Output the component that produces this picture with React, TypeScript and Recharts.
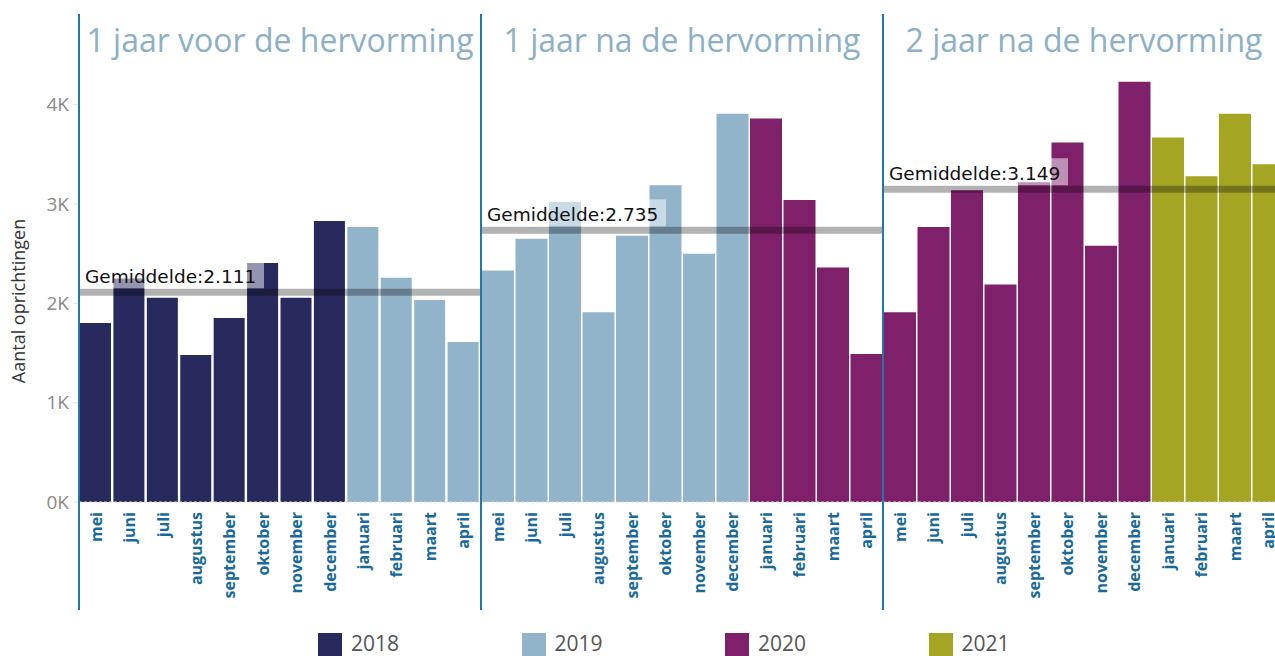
import React from "react";
import { BarChart, Bar, Cell, XAxis, YAxis, ReferenceLine } from "recharts";

const calendarMonths = [
  "januari", "februari", "maart", "april", "mei", "juni",
  "juli", "augustus", "september", "oktober", "november", "december",
];

// 2018 starts in mei, 2021 stops after april
const values2018 = [1803, 2250, 2057, 1480, 1853, 2407, 2057, 2830];
const values2019 = [2769, 2259, 2034, 1611, 2330, 2650, 3020, 1910, 2680, 3190, 2500, 3910];
const values2020 = [3860, 3040, 2360, 1490, 1910, 2770, 3140, 2190, 3220, 3620, 2580, 4230];
const values2021 = [3670, 3280, 3910, 3400];

const panelTitles = ["1 jaar voor de hervorming", "1 jaar na de hervorming", "2 jaar na de hervorming"];
const panelAverages = [2111, 2735, 3149];
const yTicks = [0, 1000, 2000, 3000, 4000];
const years = [2018, 2019, 2020, 2021];

const yearColors: Record<number, string> = {
  2018: "#28295c",
  2019: "#91b4ca",
  2020: "#7f206b",
  2021: "#a5a524",
};

const series = [
  ...values2018.map((v, i) => ({ month: calendarMonths[i + 4], year: 2018, value: v })),
  ...values2019.map((v, i) => ({ month: calendarMonths[i], year: 2019, value: v })),
  ...values2020.map((v, i) => ({ month: calendarMonths[i], year: 2020, value: v })),
  ...values2021.map((v, i) => ({ month: calendarMonths[i], year: 2021, value: v })),
];

const panels = panelTitles.map((title, i) => ({
  title,
  avg: panelAverages[i],
  data: series.slice(i * 12, i * 12 + 12).map((d, j) => ({ ...d, key: `${i}-${j}` })),
}));

const Y_MAX = 4420;
const PLOT_TOP = 63;
const CHART_H = 610;
const AXIS_H = 108;
const BLUE = "#2378a8";

const fmtNL = (n: number) => {
  const s = String(n);
  return s.length > 3 ? s.slice(0, -3) + "." + s.slice(-3) : s;
};

function MonthTick(props: any) {
  const { x, y, payload, data } = props;
  const label = data[payload.index]?.month ?? payload.value;
  const ax = x + 6;
  const ay = y + 2;
  return (
    <text
      x={ax}
      y={ay}
      transform={`rotate(-90, ${ax}, ${ay})`}
      textAnchor="end"
      fill="#176a9a"
      fontSize={16}
      fontWeight={700}
      fontFamily="'Open Sans', sans-serif"
    >
      {label}
    </text>
  );
}

function AvgLabel(props: any) {
  const { viewBox, text } = props;
  const x = viewBox.x;
  const y = viewBox.y;
  return (
    <g>
      <rect x={x + 1} y={y - 31} width={184} height={27} fill="rgba(255,255,255,0.5)" />
      <text x={x + 6} y={y - 9.5} fill="#111" fontSize={18.5} fontFamily="'DejaVu Sans', sans-serif">
        {text}
      </text>
    </g>
  );
}

function Panel({ panel, left, width, showAxis }: any) {
  const yAxisW = showAxis ? 79 : 0;
  return (
    <div style={{ position: "absolute", left, top: 0 }}>
      <BarChart
        width={width}
        height={CHART_H}
        data={panel.data}
        margin={{ top: PLOT_TOP, right: 0, bottom: 0, left: 0 }}
        barCategoryGap={1}
      >
        <XAxis
          dataKey="key"
          interval={0}
          tickLine={false}
          axisLine={{ stroke: "#d9d9d9", strokeDasharray: "3 2" }}
          height={AXIS_H}
          tick={<MonthTick data={panel.data} />}
        />
        <YAxis
          hide={!showAxis}
          width={yAxisW}
          domain={[0, Y_MAX]}
          ticks={yTicks}
          axisLine={false}
          tickLine={{ stroke: "#e0e0e0" }}
          tickSize={6}
          tickMargin={4}
          tickFormatter={(v: number) => `${v / 1000}K`}
          tick={{ fill: "#8a8a8a", fontSize: 19, fontFamily: "'Open Sans', sans-serif" }}
        />
        <Bar dataKey="value" isAnimationActive={false}>
          {panel.data.map((d: any) => (
            <Cell key={d.key} fill={yearColors[d.year]} />
          ))}
        </Bar>
        <ReferenceLine
          y={panel.avg}
          stroke="rgba(0,0,0,0.3)"
          strokeWidth={7}
          label={(p: any) => <AvgLabel {...p} text={`Gemiddelde:${fmtNL(panel.avg)}`} />}
        />
      </BarChart>
    </div>
  );
}

const panelLefts = [0, 481, 883];
const panelWidths = [480, 402, 402];
const dividerXs = [79, 481, 883];
const titleCenters = [280, 682, 1084];

export default function App() {
  return (
    <div
      style={{
        position: "absolute",
        left: 0,
        top: 0,
        width: 1275,
        height: 656,
        overflow: "hidden",
        background: "#fff",
        fontFamily: "'Open Sans', sans-serif",
      }}
    >
      {panels.map((p, i) => (
        <Panel key={i} panel={p} left={panelLefts[i]} width={panelWidths[i]} showAxis={i === 0} />
      ))}
      {dividerXs.map((x) => (
        <div
          key={x}
          style={{ position: "absolute", left: x - 1, top: 14, width: 1.5, height: 596, background: BLUE }}
        />
      ))}
      {panels.map((p, i) => (
        <div
          key={p.title}
          style={{
            position: "absolute",
            left: titleCenters[i] - 200,
            width: 400,
            top: 24,
            lineHeight: "32px",
            fontSize: 32,
            textAlign: "center",
            color: "#8cb0c5",
            whiteSpace: "nowrap",
          }}
        >
          {p.title}
        </div>
      ))}
      <div
        style={{
          position: "absolute",
          left: 18,
          top: 301,
          transform: "translate(-50%, -50%) rotate(-90deg)",
          whiteSpace: "nowrap",
          fontSize: 18,
          color: "#333",
        }}
      >
        Aantal oprichtingen
      </div>
      {years.map((y, i) => (
        <div
          key={y}
          style={{ position: "absolute", left: 318 + i * 203.5, top: 633, display: "flex", alignItems: "flex-start" }}
        >
          <div style={{ width: 24, height: 23, background: yearColors[y] }} />
          <div style={{ marginLeft: 9, fontSize: 21, lineHeight: "21px", color: "#555" }}>{y}</div>
        </div>
      ))}
    </div>
  );
}
